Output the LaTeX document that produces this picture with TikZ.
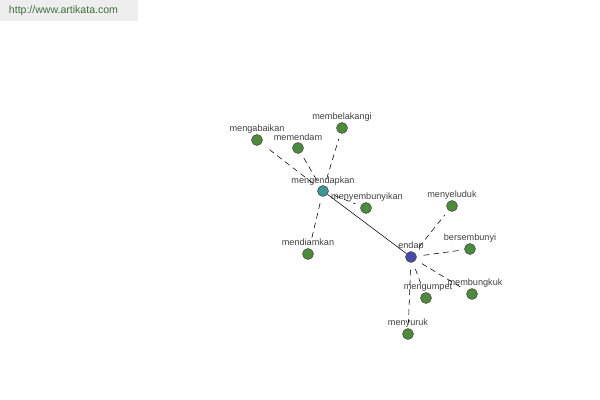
\documentclass[tikz,border=0pt]{standalone}
\usepackage{fontspec}
\setmainfont{Liberation Sans}
\definecolor{leafgreen}{HTML}{4C8A3C}
\definecolor{hubteal}{HTML}{3E9696}
\definecolor{rootblue}{HTML}{4A4AA8}
\definecolor{urlgray}{HTML}{EEEEEE}
\definecolor{urltext}{HTML}{3F6E3F}
\begin{document}
\begin{tikzpicture}[x=0.025cm, y=-0.025cm,
		word/.style={circle, draw=black!70, fill=leafgreen, inner sep=0pt, minimum size=7.8pt},
		hub/.style={word, fill=hubteal},
		root/.style={word, fill=rootblue},
		tag/.style={font=\fontsize{6.5}{7}\selectfont, text=black!75, inner sep=1pt},
		link/.style={black, thin, dash pattern=on 4pt off 3pt, shorten >=4pt, shorten <=5pt}
		]
		\useasboundingbox (0,0) rectangle (600,400);
		
		% ---- SUMBER ----
		\fill[urlgray] (0,0) rectangle (138,21);
		\node[anchor=west, font=\fontsize{7.5}{8}\selectfont, text=urltext] (url) at (4,11) {http://www.artikata.com};
		
		% ---- NODOS ----
		\node[hub] (mengendapkan) at (323,191) {};
		\node[root] (endap) at (411,257) {};
		
		\node[word] (mengabaikan) at (257,140) {};
		\node[word] (memendam) at (298,148) {};
		\node[word] (membelakangi) at (342,128) {};
		\node[word] (mendiamkan) at (308,254) {};
		\node[word] (menyembunyikan) at (366,208) {};
		
		\node[word] (menyeluduk) at (452,206) {};
		\node[word] (bersembunyi) at (470,249) {};
		\node[word] (membungkuk) at (472,294) {};
		\node[word] (mengumpet) at (426,298) {};
		\node[word] (menyuruk) at (408,334) {};
		
		% ---- ETIQUETAS ----
		\node[tag] at (323,181) {mengendapkan};
		\node[tag] at (411,246) {endap};
		\node[tag] at (257,129) {mengabaikan};
		\node[tag] at (298,137) {memendam};
		\node[tag] at (342,117) {membelakangi};
		\node[tag] at (308,242) {mendiamkan};
		\node[tag] at (367,197) {menyembunyikan};
		\node[tag] at (452,195) {menyeluduk};
		\node[tag] at (470,238) {bersembunyi};
		\node[tag] at (475,283) {membungkuk};
		\node[tag] at (428,287) {mengumpet};
		\node[tag] at (408,323) {menyuruk};
		
		% ---- ARISTAS ----
		\draw[black, thin] (mengendapkan) -- (endap);
		\foreach \w in {mengabaikan, memendam, membelakangi, mendiamkan, menyembunyikan}
			\draw[link] (mengendapkan) -- (\w);
		\foreach \w in {menyeluduk, bersembunyi, membungkuk, mengumpet, menyuruk}
			\draw[link] (endap) -- (\w);
		
	\end{tikzpicture}
\end{document}
